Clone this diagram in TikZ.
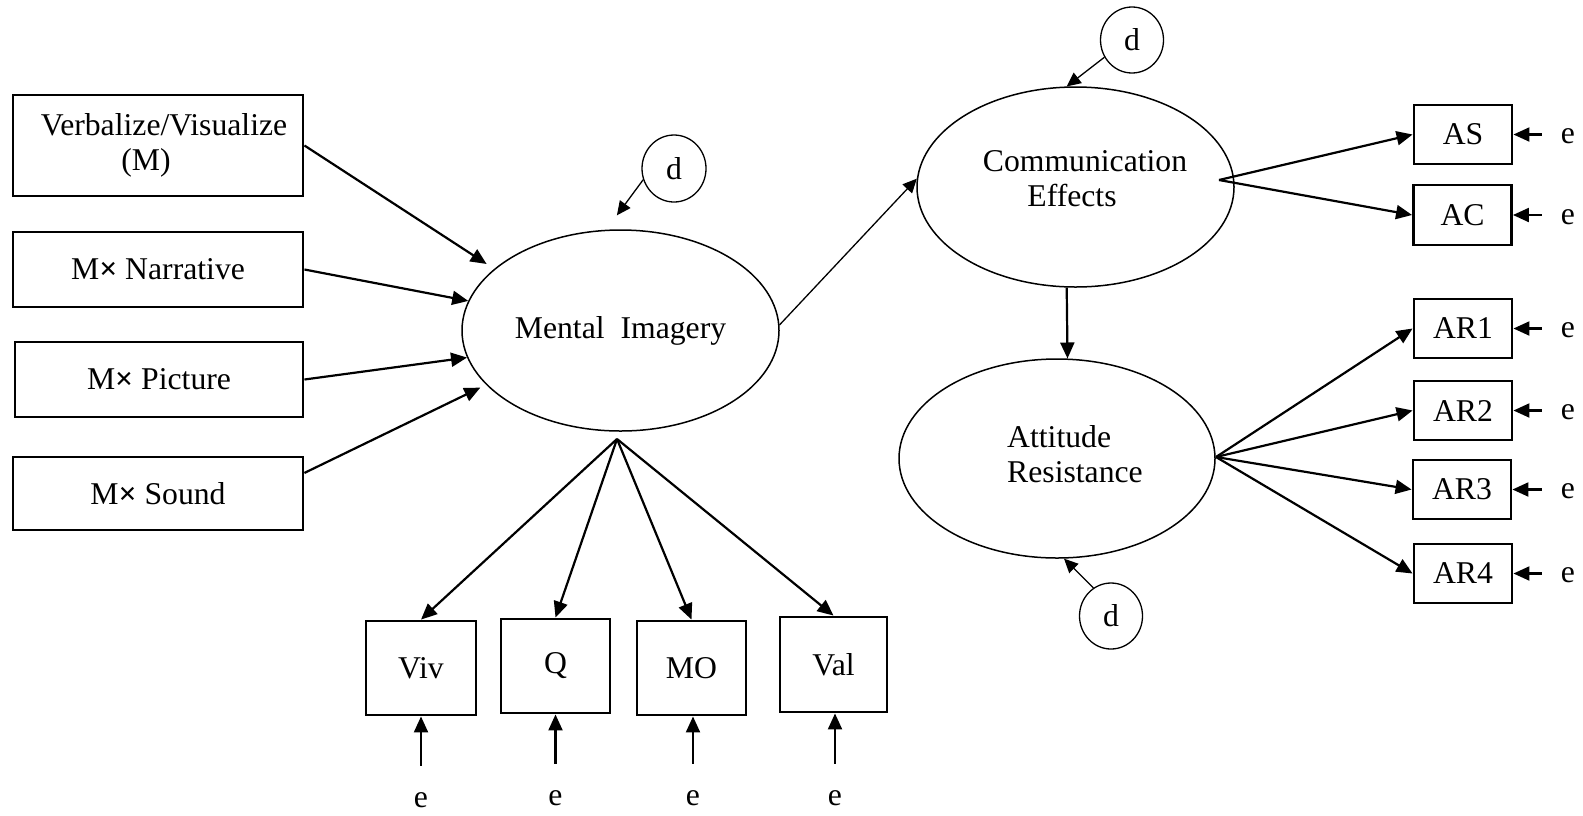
\documentclass[tikz,border=0pt]{standalone}
\usepackage{fontspec}
\setmainfont{Liberation Serif}
\usetikzlibrary{arrows.meta,shapes.geometric}
\newcommand{\mxsign}{\textbf{×}}
\begin{document}
\begin{tikzpicture}[x=0.5pt,y=-0.5pt,
  every node/.style={font=\fontsize{15.85pt}{17.5pt}\selectfont},
  obs/.style={draw, line width=1.45pt, rectangle, inner sep=0pt},
  lat/.style={draw, line width=0.75pt, ellipse, inner sep=0pt,
              minimum width=158.5pt, minimum height=100.5pt},
  dist/.style={draw, line width=0.65pt, ellipse, inner sep=0pt,
               minimum width=31.5pt, minimum height=33pt},
  err/.style={inner sep=0pt},
  link/.style={-{Triangle[length=8pt,width=7pt]}, line width=1.1pt},
  thinlink/.style={-{Triangle[length=7pt,width=6.5pt]}, line width=0.65pt},
]
\useasboundingbox (0,0) rectangle (1583,815);

% exogenous indicators
\node[obs, minimum width=145pt, minimum height=50.5pt, align=center] (vv) at (158,145.5)
  {\hspace*{6pt}Verbalize/Visualize\\(M)\hspace*{12pt}};
\node[obs, minimum width=145pt, minimum height=37.5pt] (nar) at (158,269.5) {M\mxsign\ Narrative\hspace{6pt}};
\node[obs, minimum width=144pt, minimum height=37.5pt] (pic) at (159,379.5) {M\mxsign\ Picture\hspace{10.5pt}};
\node[obs, minimum width=145pt, minimum height=36.5pt] (snd) at (158,493.5) {M\mxsign\ Sound\hspace{11pt}};

% latent variables
\node[lat] (mi) at (620.5,330.5) {Mental\ \ Imagery};
\node[lat, minimum height=100pt,
  label={[align=center, xshift=4.75pt, yshift=4.15pt]center:Communication\\Effects\hspace*{13pt}}] (ce) at (1075.5,187) {};
\node[lat, minimum width=158pt, minimum height=99.5pt,
  label={[align=left, xshift=9pt, yshift=2.4pt]center:Attitude\\Resistance}] (ar) at (1057,458.5) {};

% disturbances
\node[dist, minimum width=32pt, minimum height=33.5pt] (dm) at (674,168.5) {d};
\node[dist] (dc) at (1132,40) {d};
\node[dist] (db) at (1111,616) {d};

% mental imagery indicators
\node[obs, minimum width=55pt, minimum height=47pt] (viv) at (421,668) {Viv};
\node[obs, minimum width=54.5pt, minimum height=47pt] (q) at (555.5,666) {Q};
\node[obs, minimum width=54.5pt, minimum height=47pt] (mo) at (691.5,668) {MO};
\node[obs, minimum width=53.5pt, minimum height=47.5pt] (val) at (833.5,664.5) {Val};
\node[err] (ev) at (421,800) {e};
\node[err] (eq) at (555.5,798) {e};
\node[err] (emo) at (693,798) {e};
\node[err] (eval) at (835,798) {e};

% communication effects and attitude indicators
\node[obs, minimum width=49pt, minimum height=29.5pt] (as) at (1463,134.5) {AS};
\node[obs, minimum width=49pt, minimum height=30pt] (ac) at (1462.5,215) {AC};
\node[obs, minimum width=49pt, minimum height=29.5pt] (ar1) at (1463,328.5) {AR1};
\node[obs, minimum width=49pt, minimum height=29.5pt] (ar2) at (1463,410.5) {AR2};
\node[obs, minimum width=49pt, minimum height=29.5pt] (ar3) at (1462,489.5) {AR3};
\node[obs, minimum width=49pt, minimum height=29.5pt] (ar4) at (1463,573.5) {AR4};
\node[err] (eas) at (1568,136.5) {e};
\node[err] (eac) at (1568,217) {e};
\node[err] (ear1) at (1568,330.5) {e};
\node[err] (ear2) at (1568,412.5) {e};
\node[err] (ear3) at (1568,491.5) {e};
\node[err] (ear4) at (1568,575.5) {e};

% structural paths
\draw[link, shorten >=4.5pt] (vv.east) -- (mi.154.9);
\draw[link] (nar.east) -- (mi.169.1);
\draw[link] (pic.east) -- (mi.190.4);
\draw[link, shorten >=3.2pt] (snd.8) -- (mi.202.5);
\draw[thinlink] (mi.2) -- (ce.177.5);
\draw[link] (ce.265) -- (ar.84.4);

% disturbance paths
\draw[thinlink, shorten >=8.9pt] (dm.200.4) -- (mi.98.5);
\draw[thinlink] (dc.212.3) -- (ce.95);
\draw[thinlink] (db.122.7) -- (ar.274.1);

% loadings
\coordinate (mifan) at (617,439);
\draw[link] (mifan) -- (viv.north);
\draw[link] (mifan) -- (q.north);
\draw[link] (mifan) -- (mo.north);
\draw[link] (mifan) -- (val.north);
\coordinate (cefan) at (1219,180);
\draw[link] (cefan) -- (as.west);
\draw[link] (cefan) -- (ac.west);
\coordinate (arfan) at (1216,457);
\draw[link] (arfan) -- (ar1.west);
\draw[link] (arfan) -- (ar2.west);
\draw[link] (arfan) -- (ar3.west);
\draw[link] (arfan) -- (ar4.west);

% measurement errors
\foreach \e/\b in {ev/viv, eq/q, emo/mo, eval/val}
  \draw[link, shorten <=13pt] (\e.north) -- (\e.north |- \b.south);
\foreach \e/\b in {eas/as, eac/ac, ear1/ar1, ear2/ar2, ear3/ar3, ear4/ar4}
  \draw[link, shorten <=9.5pt] (\e.west |- \b.east) -- (\b.east);
\end{tikzpicture}
\end{document}
